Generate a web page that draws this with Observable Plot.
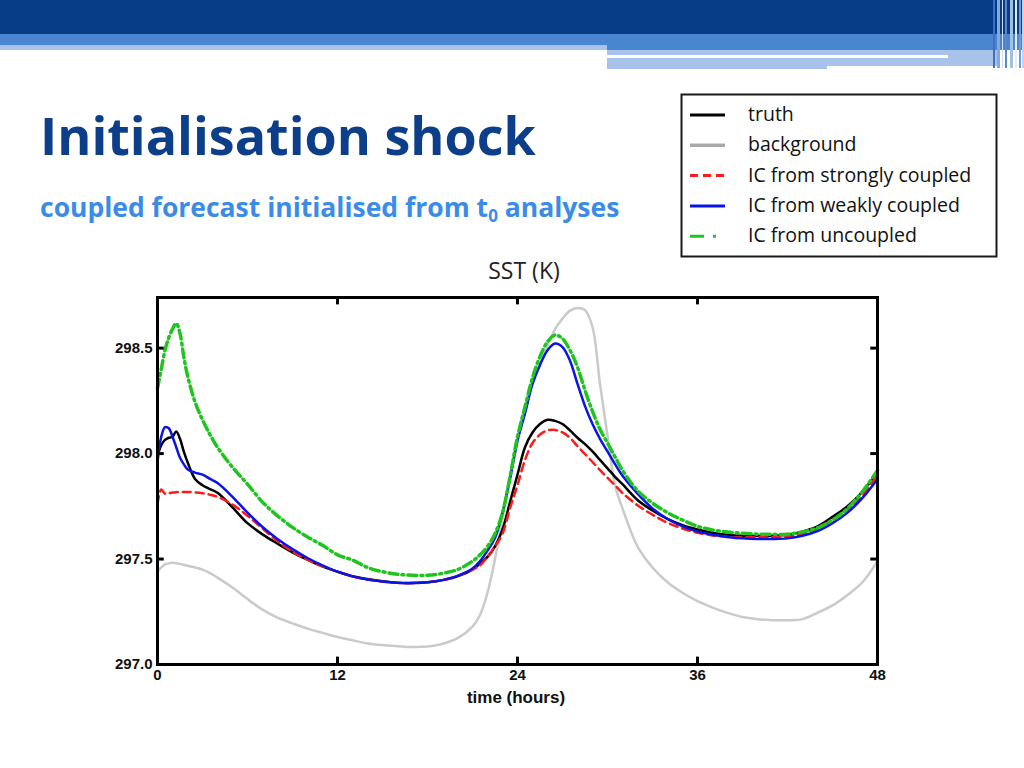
<!DOCTYPE html>
<html><head><meta charset="utf-8">
<script src="https://cdn.jsdelivr.net/npm/d3@7"></script>
<script src="https://cdn.jsdelivr.net/npm/@observablehq/plot@0.6"></script>
<style>
html,body{margin:0;padding:0;background:#fff;}
#slide{position:relative;width:1024px;height:768px;overflow:hidden;background:#fff;}
#deco{position:absolute;left:0;top:0;}
#chart{position:absolute;left:100px;top:285px;}
</style></head><body>
<div id="slide"><svg id="deco" width="1024" height="768"></svg><div id="chart"></div></div>
<script>
// ---- data ----
const hours = [0,0.25,0.5,0.75,1,1.25,1.5,1.75,2,2.5,3,3.5,4,5,6,7,8,9,10,11,12,13,14,15,16,17,18,19,20,21,21.5,22,22.5,23,23.5,24,24.5,25,25.5,26,26.5,27,27.5,28,28.5,29,29.5,30,30.5,31,32,33,34,35,36,37,38,39,40,41,42,43,44,45,46,47,48];
const truth = [297.99,298.04,298.065,298.075,298.08,298.105,298.07,298.01,297.96,297.88,297.85,297.832,297.814,297.745,297.67,297.617,297.573,297.532,297.497,297.465,297.44,297.418,297.405,297.395,297.388,297.386,297.39,297.40,297.418,297.45,297.478,297.51,297.56,297.64,297.77,297.90,298.03,298.10,298.14,298.16,298.155,298.14,298.11,298.075,298.045,298.01,297.97,297.93,297.89,297.855,297.78,297.73,297.69,297.66,297.64,297.625,297.615,297.61,297.61,297.61,297.615,297.63,297.655,297.70,297.75,297.82,297.91];
const background = [297.44,297.46,297.475,297.48,297.482,297.48,297.477,297.473,297.468,297.46,297.45,297.433,297.412,297.365,297.31,297.26,297.222,297.195,297.17,297.15,297.13,297.115,297.10,297.092,297.087,297.083,297.085,297.098,297.125,297.18,297.235,297.34,297.50,297.69,297.895,298.07,298.23,298.33,298.425,298.51,298.59,298.64,298.678,298.69,298.68,298.60,298.33,298.085,297.85,297.74,297.56,297.46,297.39,297.34,297.30,297.27,297.245,297.225,297.215,297.21,297.21,297.215,297.245,297.28,297.33,297.39,297.49];
const strongIC = [297.76,297.83,297.81,297.812,297.815,297.817,297.818,297.818,297.818,297.816,297.812,297.805,297.795,297.758,297.705,297.645,297.585,297.535,297.497,297.465,297.44,297.418,297.403,297.393,297.387,297.386,297.39,297.40,297.42,297.45,297.47,297.51,297.56,297.62,297.74,297.85,297.97,298.05,298.09,298.11,298.112,298.10,298.075,298.035,297.998,297.96,297.922,297.885,297.85,297.813,297.755,297.71,297.672,297.645,297.625,297.612,297.605,297.603,297.603,297.603,297.607,297.62,297.643,297.685,297.735,297.80,297.90];
const weakIC = [297.96,298.08,298.125,298.12,298.08,298.03,297.98,297.95,297.925,297.91,297.90,297.88,297.86,297.795,297.72,297.652,297.595,297.547,297.505,297.47,297.44,297.418,297.403,297.393,297.387,297.386,297.39,297.40,297.42,297.455,297.49,297.54,297.60,297.72,297.88,298.06,298.19,298.33,298.42,298.49,298.522,298.505,298.44,298.33,298.225,298.14,298.07,298.01,297.95,297.895,297.81,297.74,297.69,297.655,297.63,297.615,297.605,297.598,297.595,297.595,297.598,297.61,297.632,297.67,297.72,297.79,297.88];
const uncoupledIC = [298.31,298.40,298.49,298.55,298.59,298.618,298.57,298.46,298.37,298.245,298.16,298.09,298.03,297.935,297.855,297.77,297.705,297.65,297.605,297.565,297.52,297.495,297.46,297.44,297.428,297.423,297.423,297.432,297.45,297.49,297.52,297.56,297.62,297.72,297.89,298.08,298.22,298.36,298.46,298.53,298.562,298.545,298.49,298.41,298.30,298.20,298.115,298.05,297.985,297.92,297.825,297.765,297.72,297.685,297.655,297.638,297.628,297.622,297.618,297.617,297.618,297.628,297.648,297.685,297.74,297.82,297.92];
const xTicks = [0,12,24,36,48];
const yTicks = [297.0,297.5,298.0,298.5];
const seriesNames = ["truth","background","IC from strongly coupled","IC from weakly coupled","IC from uncoupled"];

// ---- styles ----
const styles = {
  "truth": {stroke:"#000000", width:2.5, dash:null, legendDash:null, legendWidth:3},
  "background": {stroke:"#cacaca", width:2.5, dash:null, legendDash:null, legendWidth:3.5, legendStroke:"#a9a9a9"},
  "IC from strongly coupled": {stroke:"#ff1a1a", width:2.5, dash:"8,5", legendDash:"8,5", legendWidth:3},
  "IC from weakly coupled": {stroke:"#0a14e6", width:2.5, dash:null, legendDash:null, legendWidth:3},
  "IC from uncoupled": {stroke:"#1fc41f", width:3.5, dash:"9,4,2,4", legendDash:"14,9,3,30", legendWidth:3}
};
const valuesByName = {
  "truth": truth, "background": background,
  "IC from strongly coupled": strongIC, "IC from weakly coupled": weakIC, "IC from uncoupled": uncoupledIC
};
const drawOrder = ["background","truth","IC from strongly coupled","IC from weakly coupled","IC from uncoupled"];

// ---- slide decoration ----
const deco = d3.select("#deco");
const bars = [
  [0,0,1024,34,"#073c87"],
  [0,34,1024,11,"#4a86d0"],
  [0,45,607,5,"#a8c2ea"],
  [607,45,417,5,"#4a86d0"],
  [607,50,393,16,"#a8c2ea"],
  [607,66,220,3,"#a8c2ea"],
  [607,55,341,3,"#ffffff"],
  [993,0,2,68,"#3f72bd"],[997,0,3,68,"#86a8dc"],[1002,0,1,68,"#d3e0f3"],
  [1005,0,2,68,"#5b88cc"],[1010,0,3,68,"#a3bfe6"],[1015,0,2,68,"#e6eef9"],[1019,0,2,68,"#7199d6"],[1022,0,2,68,"#c0d3ef"]
];
deco.selectAll("rect.bar").data(bars).join("rect").attr("class","bar")
  .attr("x",d=>d[0]).attr("y",d=>d[1]).attr("width",d=>d[2]).attr("height",d=>d[3]).attr("fill",d=>d[4]);

deco.append("text").attr("x",40).attr("y",155)
  .attr("font-family","'Open Sans',sans-serif").attr("font-weight",700).attr("font-size",52)
  .attr("fill","#0c3e8a").text("Initialisation shock");
const sub = deco.append("text").attr("x",40).attr("y",217)
  .attr("font-family","'Open Sans',sans-serif").attr("font-weight",700).attr("font-size",26.5)
  .attr("fill","#3b8ce8");
sub.append("tspan").text("coupled forecast initialised from t");
sub.append("tspan").attr("font-size",17).attr("dy",5).text("0");
sub.append("tspan").attr("dy",-5).text(" analyses");

deco.append("text").attr("x",524).attr("y",279).attr("text-anchor","middle")
  .attr("font-family","'Open Sans',sans-serif").attr("font-size",23).attr("fill","#222").text("SST (K)");

deco.append("text").attr("x",516).attr("y",703).attr("text-anchor","middle")
  .attr("font-family","'Liberation Sans Narrow','Liberation Sans',Arial,sans-serif").attr("font-weight",700)
  .attr("font-size",17).attr("fill","#111").text("time (hours)");

// legend
const lg = deco.append("g");
lg.append("rect").attr("x",681.5).attr("y",94.5).attr("width",315).attr("height",162)
  .attr("fill","#fff").attr("stroke","#1a1a1a").attr("stroke-width",2);
seriesNames.forEach((name,i)=>{
  const s = styles[name];
  const yl = 115 + i*30.3;
  lg.append("line").attr("x1",690).attr("x2",725).attr("y1",yl).attr("y2",yl)
    .attr("stroke", s.legendStroke || s.stroke).attr("stroke-width", s.legendWidth)
    .attr("stroke-dasharray", s.legendDash);
  lg.append("text").attr("x",748).attr("y",yl+6).attr("font-family","'Open Sans',sans-serif")
    .attr("font-size",19.5).attr("fill","#111").text(name);
});

// ---- chart ----
const table = name => hours.map((t,i)=>({t, v: valuesByName[name][i], name}));
const lineMarks = drawOrder.map(name => {
  const s = styles[name];
  return Plot.line(table(name), {x:"t", y:"v", stroke:s.stroke, strokeWidth:s.width,
    strokeDasharray:s.dash || undefined, curve:"catmull-rom"});
});
const yMax = 298.74;
const chart = Plot.plot({
  width: 800, height: 430,
  marginLeft: 57, marginRight: 23, marginTop: 12, marginBottom: 51,
  x: {domain:[0,48]},
  y: {domain:[297, yMax]},
  style: {fontFamily:"'Liberation Sans Narrow','Liberation Sans',Arial,sans-serif", fontSize:"15px", fontWeight:"bold", background:"transparent", overflow:"visible", color:"#111"},
  marks: [
    ...lineMarks,
    Plot.ruleY(yTicks, {y: d=>d, x1:0, x2:0.45, strokeWidth:3, stroke:"#000"}),
    Plot.ruleY(yTicks, {y: d=>d, x1:47.55, x2:48, strokeWidth:3, stroke:"#000"}),
    Plot.ruleX(xTicks, {x: d=>d, y1:297, y2:297.035, strokeWidth:3, stroke:"#000"}),
    Plot.ruleX(xTicks, {x: d=>d, y1:yMax, y2:yMax-0.035, strokeWidth:3, stroke:"#000"}),
    Plot.frame({stroke:"#000", strokeWidth:3}),
    Plot.axisX(xTicks, {tickSize:0, tickPadding:5, label:null, tickFormat:d=>String(d)}),
    Plot.axisY(yTicks, {tickSize:0, tickPadding:5, label:null, tickFormat:d=>d.toFixed(1)})
  ]
});
document.getElementById("chart").appendChild(chart);
</script>
</body></html>
